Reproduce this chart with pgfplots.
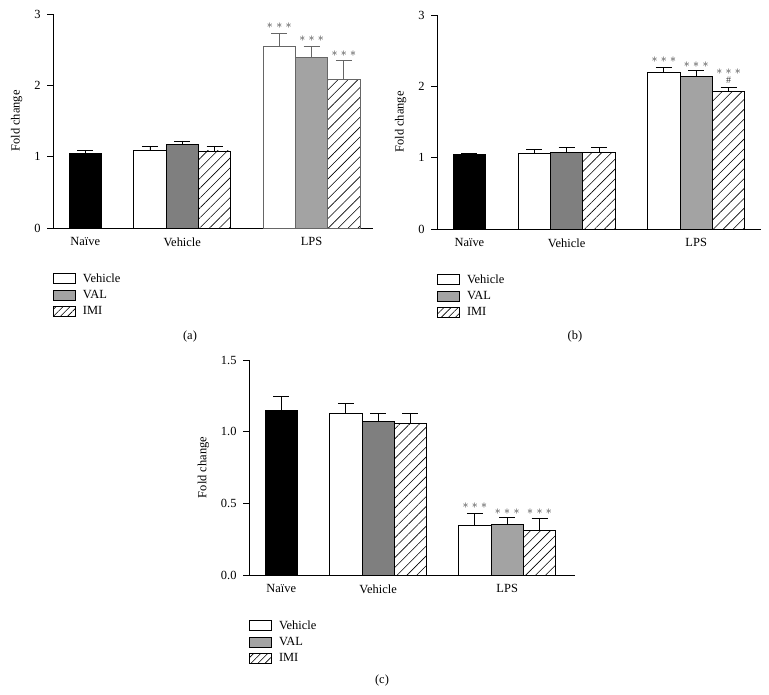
\documentclass[border=0pt]{standalone}
\usepackage{fontspec}
\setmainfont{Liberation Serif}
\usepackage{pgfplots}
\pgfplotsset{compat=1.18}
\usetikzlibrary{patterns.meta}

\definecolor{valdark}{HTML}{7F7F7F}
\definecolor{vallight}{HTML}{A3A3A3}
\definecolor{stargray}{HTML}{3C3C3C}
\newcommand{\fs}{\fontsize{12.5}{15}\selectfont}
\newcommand{\stars}{$\ast\mkern1mu\ast\mkern1mu\ast$}

\tikzset{astnode/.style={font=\fontsize{12}{13}\selectfont, text=stargray, inner sep=0pt}}

\pgfplotsset{
  panel/.style={
    scale only axis, anchor=south west, clip=false,
    axis x line*=bottom, axis y line*=left,
    axis line style={line width=0.9bp, black},
    xmin=0, ymin=0, enlargelimits=false,
    xtick={1,4,8}, xticklabels={Naïve,Vehicle,LPS},
    xtick style={draw=none},
    ytick style={line width=0.9bp, black},
    tick align=outside, major tick length=6bp,
    ylabel={Fold change}, ylabel shift=5bp,
    tick label style={font=\fs},
    yticklabel style={xshift=-3bp},
    label style={font=\fs},
    /pgf/number format/assume math mode=true,
    legend style={at={(0,0)}, anchor=north west, yshift=-45bp,
      draw=none, fill=none, inner sep=0pt, font=\fs, row sep=5.5bp,
      /tikz/every odd column/.append style={column sep=3bp},
      nodes={inner xsep=4bp, inner ysep=0bp}},
    legend cell align=left,
    legend image code/.code={\draw[#1, line width=0.8bp] (0bp,-5bp) rectangle (22bp,5bp);},
  },
  mybar/.style={ybar, bar width=1, line width=0.8bp, draw=black, forget plot,
    error bars/y dir=plus, error bars/y explicit,
    error bars/error bar style={line width=0.9bp, black},
    error bars/error mark options={rotate=90, line width=0.9bp, mark size=8bp, black}},
  hatch/.style={pattern={Lines[angle=45, distance=7bp, line width=0.6bp]}, pattern color=black},
  grayedge/.style={draw=black!60,
    error bars/error bar style={black!60},
    error bars/error mark options={rotate=90, line width=0.9bp, mark size=8bp, black!60}},
}

\begin{document}
\begin{tikzpicture}
\path[fill=white, use as bounding box] (0,0) rectangle (769bp,-695bp);

% (a)
\begin{axis}[panel, at={(53bp,-228bp)}, width=320bp, height=214bp,
  xmax=9.9, ymax=3, ytick={0,1,2,3}]
\addplot[mybar, fill=black] coordinates {(1,1.04) +- (0,0.045)};
\addplot[mybar, fill=white] coordinates {(3,1.085) +- (0,0.055)};
\addplot[mybar, fill=valdark] coordinates {(4,1.175) +- (0,0.045)};
\addplot[mybar, hatch] coordinates {(5,1.08) +- (0,0.07)};
\addplot[mybar, fill=white, grayedge] coordinates {(7,2.55) +- (0,0.18)};
\addplot[mybar, fill=vallight, grayedge] coordinates {(8,2.39) +- (0,0.16)};
\addplot[mybar, hatch, grayedge] coordinates {(9,2.085) +- (0,0.265)};
\node[astnode] at (axis cs:7,2.83) {\stars};
\node[astnode] at (axis cs:8,2.65) {\stars};
\node[astnode] at (axis cs:9,2.44) {\stars};
\addlegendimage{fill=white, draw=black}
\addlegendentry{Vehicle}
\addlegendimage{fill=vallight, draw=black}
\addlegendentry{VAL}
\addlegendimage{draw=black, pattern={Lines[angle=45, distance=5bp, line width=0.6bp]}}
\addlegendentry{IMI}
\end{axis}

% (b)
\begin{axis}[panel, at={(437bp,-229bp)}, width=324bp, height=214bp,
  xmax=10.0, ymax=3, ytick={0,1,2,3}]
\addplot[mybar, fill=black] coordinates {(1,1.04) +- (0,0.02)};
\addplot[mybar, fill=white] coordinates {(3,1.06) +- (0,0.06)};
\addplot[mybar, fill=valdark] coordinates {(4,1.08) +- (0,0.065)};
\addplot[mybar, hatch] coordinates {(5,1.07) +- (0,0.075)};
\addplot[mybar, fill=white] coordinates {(7,2.19) +- (0,0.08)};
\addplot[mybar, fill=vallight] coordinates {(8,2.14) +- (0,0.08)};
\addplot[mybar, hatch] coordinates {(9,1.93) +- (0,0.06)};
\node[astnode] at (axis cs:7,2.38) {\stars};
\node[astnode] at (axis cs:8,2.31) {\stars};
\node[astnode] at (axis cs:9,2.20) {\stars};
\node[astnode, font=\fontsize{10}{11}\selectfont] at (axis cs:9,2.08) {\#};
\addlegendimage{fill=white, draw=black}
\addlegendentry{Vehicle}
\addlegendimage{fill=vallight, draw=black}
\addlegendentry{VAL}
\addlegendimage{draw=black, pattern={Lines[angle=45, distance=5bp, line width=0.6bp]}}
\addlegendentry{IMI}
\end{axis}

% (c)
\begin{axis}[panel, at={(249bp,-575bp)}, width=326bp, height=215bp,
  xmax=10.1, ymax=1.5, ytick={0,0.5,1,1.5},
  yticklabel style={/pgf/number format/fixed, /pgf/number format/fixed zerofill,
    /pgf/number format/precision=1}]
\addplot[mybar, fill=black] coordinates {(1,1.147) +- (0,0.10)};
\addplot[mybar, fill=white] coordinates {(3,1.13) +- (0,0.07)};
\addplot[mybar, fill=valdark] coordinates {(4,1.075) +- (0,0.053)};
\addplot[mybar, hatch] coordinates {(5,1.06) +- (0,0.068)};
\addplot[mybar, fill=white] coordinates {(7,0.344) +- (0,0.082)};
\addplot[mybar, fill=vallight] coordinates {(8,0.354) +- (0,0.046)};
\addplot[mybar, hatch] coordinates {(9,0.314) +- (0,0.084)};
\node[astnode] at (axis cs:7,0.48) {\stars};
\node[astnode] at (axis cs:8,0.445) {\stars};
\node[astnode] at (axis cs:9,0.445) {\stars};
\addlegendimage{fill=white, draw=black}
\addlegendentry{Vehicle}
\addlegendimage{fill=vallight, draw=black}
\addlegendentry{VAL}
\addlegendimage{draw=black, pattern={Lines[angle=45, distance=5bp, line width=0.6bp]}}
\addlegendentry{IMI}
\end{axis}

\node[font=\fs] at (190bp,-337bp) {(a)};
\node[font=\fs] at (575bp,-337bp) {(b)};
\node[font=\fs] at (382bp,-680bp) {(c)};
\end{tikzpicture}
\end{document}
